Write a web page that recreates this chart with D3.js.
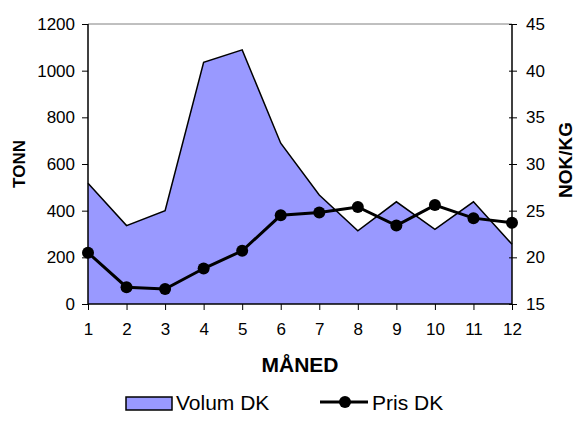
<!DOCTYPE html>
<html>
<head>
<meta charset="utf-8">
<script src="https://cdn.jsdelivr.net/npm/d3@7"></script>
<style>
  body { margin: 0; background: #fff; }
  text { font-family: "Liberation Sans", Arial, sans-serif; }
</style>
</head>
<body>
<svg id="vis" width="580" height="421"></svg>
<script>
// data
var months = [1, 2, 3, 4, 5, 6, 7, 8, 9, 10, 11, 12];
var volumDK = [517, 336, 400, 1036, 1089, 689, 467, 314, 438, 320, 438, 256];
var prisDK = [20.5, 16.8, 16.6, 18.8, 20.7, 24.5, 24.8, 25.4, 23.4, 25.6, 24.2, 23.7];
var leftTicks = [0, 200, 400, 600, 800, 1000, 1200];
var rightTicks = [15, 20, 25, 30, 35, 40, 45];

var svg = d3.select("#vis"),
    plotL = 88, plotR = 512, plotT = 24, plotB = 304;

var x = d3.scaleLinear().domain([1, 12]).range([plotL, plotR]);
var yL = d3.scaleLinear().domain([0, 1200]).range([plotB, plotT]);
var yR = d3.scaleLinear().domain([15, 45]).range([plotB, plotT]);

// plot border (top is grey)
svg.append("line")
    .attr("x1", plotL).attr("x2", plotR).attr("y1", plotT).attr("y2", plotT)
    .attr("stroke", "#808080").attr("stroke-width", 1);

// volume area
var area = d3.area()
    .x(function(d, i) { return x(months[i]); })
    .y0(plotB)
    .y1(function(d) { return yL(d); });

svg.append("path")
    .datum(volumDK)
    .attr("d", area)
    .attr("fill", "#9999ff");

var topLine = d3.line()
    .x(function(d, i) { return x(months[i]); })
    .y(function(d) { return yL(d); });

svg.append("path")
    .datum(volumDK)
    .attr("d", topLine)
    .attr("fill", "none")
    .attr("stroke", "#000")
    .attr("stroke-width", 1.5);

// price line
var priceLine = d3.line()
    .x(function(d, i) { return x(months[i]); })
    .y(function(d) { return yR(d); });

svg.append("path")
    .datum(prisDK)
    .attr("d", priceLine)
    .attr("fill", "none")
    .attr("stroke", "#000")
    .attr("stroke-width", 3);

svg.append("g").selectAll("circle")
    .data(prisDK)
    .enter().append("circle")
      .attr("cx", function(d, i) { return x(months[i]); })
      .attr("cy", function(d) { return yR(d); })
      .attr("r", 6)
      .attr("fill", "#000");

// axes
var axL = svg.append("g")
    .attr("transform", "translate(" + plotL + ",0)")
    .call(d3.axisLeft(yL).tickValues(leftTicks).tickFormat(d3.format("d")).tickSize(6).tickPadding(7));

var axR = svg.append("g")
    .attr("transform", "translate(" + plotR + ",0)")
    .call(d3.axisRight(yR).tickValues(rightTicks).tickFormat(d3.format("d")).tickSize(5).tickPadding(9));
axR.selectAll(".tick line").attr("x1", -3);

var axB = svg.append("g")
    .attr("transform", "translate(0," + plotB + ")")
    .call(d3.axisBottom(x).tickValues(months).tickFormat(d3.format("d")).tickSize(6).tickPadding(13));

[axL, axR, axB].forEach(function(a) {
  a.select(".domain").attr("stroke", "#000").attr("stroke-width", 1.5);
  a.selectAll(".tick line").attr("stroke", "#000").attr("stroke-width", 1);
  a.selectAll(".tick text")
      .attr("fill", "#000")
      .style("font-family", "'Liberation Sans', Arial, sans-serif")
      .style("font-size", "17px");
});
axL.select(".domain").attr("d", "M0," + plotT + "V" + plotB);
axR.select(".domain").attr("d", "M0," + plotT + "V" + plotB);
axB.select(".domain").attr("d", "M" + plotL + ",0H" + plotR);

// axis titles
svg.append("text")
    .attr("transform", "translate(25,164) rotate(-90)")
    .attr("text-anchor", "middle")
    .style("font-size", "17px").style("font-weight", "bold")
    .text("TONN");

svg.append("text")
    .attr("transform", "translate(572,160) rotate(-90)")
    .attr("text-anchor", "middle")
    .style("font-size", "19px").style("font-weight", "bold")
    .text("NOK/KG");

svg.append("text")
    .attr("x", 300).attr("y", 372)
    .attr("text-anchor", "middle")
    .style("font-size", "21px").style("font-weight", "bold")
    .text("MÅNED");

// legend
var lg = svg.append("g");
lg.append("rect")
    .attr("x", 126).attr("y", 397).attr("width", 46).attr("height", 13)
    .attr("fill", "#9999ff").attr("stroke", "#000").attr("stroke-width", 1.5);
lg.append("text")
    .attr("x", 176).attr("y", 410)
    .style("font-size", "21px")
    .text("Volum DK");
lg.append("line")
    .attr("x1", 320).attr("x2", 368).attr("y1", 402).attr("y2", 402)
    .attr("stroke", "#000").attr("stroke-width", 3);
lg.append("circle")
    .attr("cx", 345).attr("cy", 402).attr("r", 6).attr("fill", "#000");
lg.append("text")
    .attr("x", 372).attr("y", 410)
    .style("font-size", "21px")
    .text("Pris DK");
</script>
</body>
</html>
